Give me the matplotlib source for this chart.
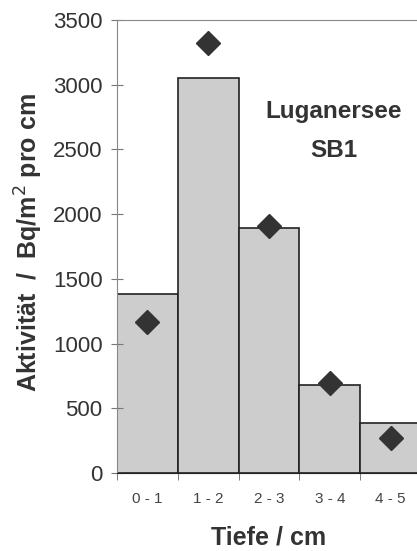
import matplotlib
matplotlib.use("Agg")
import matplotlib.pyplot as plt
import numpy as np

# Values
depth_labels = ["0 - 1", "1 - 2", "2 - 3", "3 - 4", "4 - 5"]
bar_values = [1380, 3050, 1890, 680, 385]
point_values = [1165, 3320, 1905, 695, 270]

plt.rcParams['font.family'] = ['Liberation Sans', 'DejaVu Sans']

fig = plt.figure(figsize=(4.17, 5.51), dpi=100)
ax = fig.add_axes([117 / 417, 1 - 473 / 551, 304 / 417, 453 / 551])

x = np.arange(len(bar_values)) + 0.5
ax.bar(x, bar_values, width=1.0, color='#cdcdcd', edgecolor='#222222', linewidth=1.2)
ax.plot(x, point_values, linestyle='none', marker='D', markersize=12,
        color='#333333', markeredgecolor='#333333')

ax.set_xlim(0, 5)
ax.set_ylim(0, 3500)
ax.set_yticks(np.arange(0, 3501, 500))
ax.set_xticks(x)
ax.set_xticklabels(depth_labels)
ax.set_xticks(np.arange(0, 6), minor=True)
ax.tick_params(axis='x', which='major', length=0, pad=14, labelsize=11, labelcolor='#444444')
ax.tick_params(axis='x', which='minor', length=5, color='#666666')
ax.tick_params(axis='y', direction='inout', length=9, pad=6, labelsize=16,
               labelcolor='#333333', color='#777777')

for side in ['left', 'top', 'right']:
    ax.spines[side].set_color('#888888')
ax.spines['top'].set_linestyle((0, (1, 1)))
ax.spines['bottom'].set_color('#222222')

ax.text(3.57, 2790, 'Luganersee', ha='center', va='center', fontsize=17.5,
        fontweight='bold', color='#333333')
ax.text(3.57, 2495, 'SB1', ha='center', va='center', fontsize=17.5,
        fontweight='bold', color='#333333')

ax.set_xlabel('Tiefe / cm', fontsize=18, fontweight='bold', color='#333333', labelpad=14)
fig.text(29 / 417, 1 - 243 / 551, 'Aktivität  /  Bq/m$^2$ pro cm', rotation=90,
         ha='center', va='center', fontsize=18, fontweight='bold', color='#333333')

fig.savefig('out.png', dpi=100)
